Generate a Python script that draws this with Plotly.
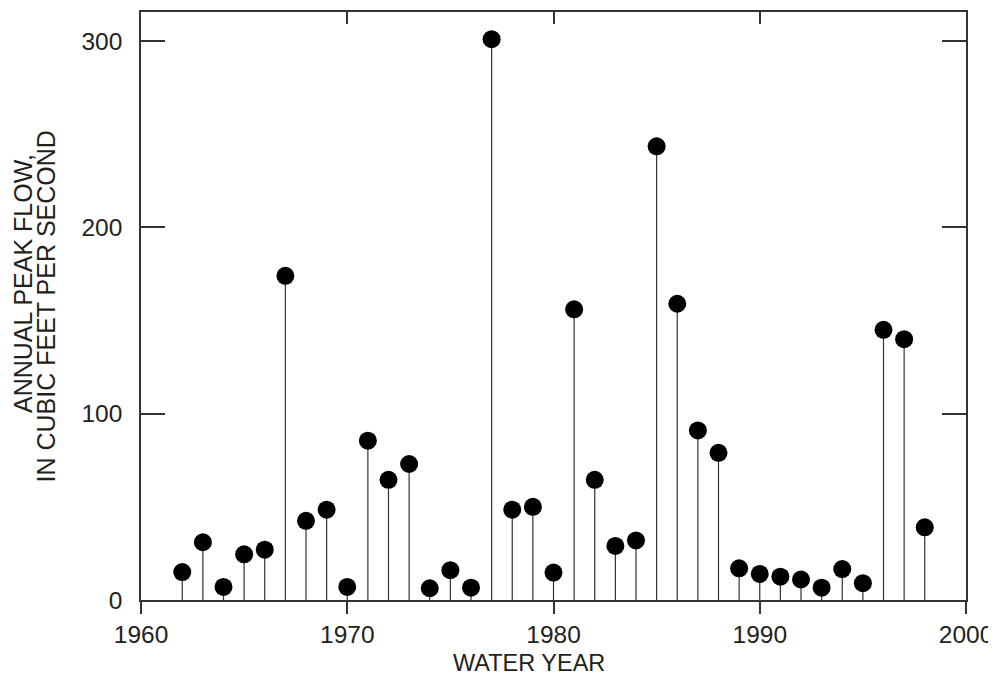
import plotly.graph_objects as go

years = list(range(1962, 1999))
peak_flow = [15, 31, 7, 24.5, 27, 174, 42.5, 48.5, 7, 85.5, 64.5, 73, 6.3,
             16, 6.6, 301, 48.5, 50, 14.7, 156, 64.5, 29, 32, 243.5,
             159, 91, 79, 17, 14, 12.5, 11, 6.6, 16.6, 9, 145, 140, 39]

x_ticks = [1960, 1970, 1980, 1990, 2000]
y_ticks = [0, 100, 200, 300]

FONT = "Liberation Sans, Arial, Helvetica, sans-serif"
AX = "#333333"
TXT = "#231f20"

stem_x, stem_y = [], []
for yr, v in zip(years, peak_flow):
    stem_x += [yr, yr, None]
    stem_y += [0, v, None]

fig = go.Figure()
fig.add_trace(go.Scatter(x=stem_x, y=stem_y, mode="lines",
                         line=dict(color="#333333", width=1.2),
                         hoverinfo="skip", showlegend=False))
fig.add_trace(go.Scatter(x=years, y=peak_flow, mode="markers",
                         marker=dict(color="black", size=18),
                         showlegend=False))
# invisible trace to activate top axis
fig.add_trace(go.Scatter(x=[1960, 2000], y=[0, 0], xaxis="x2", mode="markers",
                         marker=dict(opacity=0), hoverinfo="skip", showlegend=False))

# page body has an 8px default margin; figure is sized to fit the 996x682 window
fig.update_layout(
    width=988, height=674,
    margin=dict(l=133, r=30, t=4, b=82),
    plot_bgcolor="white", paper_bgcolor="white",
    font=dict(family=FONT, size=24, color=TXT),
    xaxis=dict(range=[1960, 2000], tickvals=x_ticks, ticks="outside", ticklen=12,
               tickwidth=1.5, tickcolor=AX, showline=True, linecolor=AX, linewidth=1.5,
               showgrid=False, zeroline=False, tickfont=dict(size=24.5)),
    xaxis2=dict(range=[1960, 2000], overlaying="x", side="top", tickvals=x_ticks,
                ticks="inside", ticklen=12, tickwidth=1.5, tickcolor=AX,
                showline=True, linecolor=AX, linewidth=1.5, showticklabels=False,
                showgrid=False, zeroline=False),
    yaxis=dict(range=[0, 315.6], tickvals=y_ticks, ticks="inside", ticklen=24,
               tickwidth=1.5, tickcolor=AX, showline=True, linecolor=AX, linewidth=1.5,
               mirror="ticks", showgrid=False, zeroline=False, ticklabelstandoff=12,
               tickfont=dict(size=24.5)),
    annotations=[
        dict(text="WATER YEAR", xref="paper", yref="paper", x=0.4703, y=-0.1325,
             xanchor="center", yanchor="bottom", showarrow=False,
             font=dict(family=FONT, size=23.5, color=TXT)),
        dict(text="ANNUAL PEAK FLOW,", xref="paper", yref="paper", x=-0.1424, y=0.5383,
             xanchor="center", yanchor="middle", textangle=-90, showarrow=False,
             font=dict(family=FONT, size=25, color=TXT)),
        dict(text="IN CUBIC FEET PER SECOND", xref="paper", yref="paper", x=-0.1152, y=0.4991,
             xanchor="center", yanchor="middle", textangle=-90, showarrow=False,
             font=dict(family=FONT, size=25, color=TXT)),
    ],
)

fig.write_html("out.html")
